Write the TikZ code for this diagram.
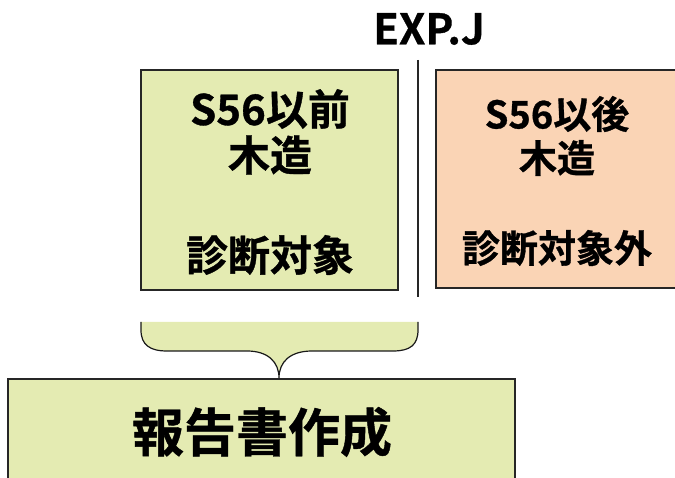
\documentclass[tikz,border=0pt]{standalone}
\usepackage{fontspec}
\newfontfamily\cjk[FakeBold=0.8]{Noto Sans CJK JP Bold}
\definecolor{lgreen}{HTML}{E4EBB2}
\definecolor{peach}{HTML}{FAD4B5}
\begin{document}
\begin{tikzpicture}[x=1pt,y=-1pt,
  box/.style={draw=black!85,line width=1.3pt,inner sep=0pt,rectangle},
  lbl/.style={inner sep=0pt,font=\cjk\fontsize{42}{44}\selectfont},
  rlbl/.style={inner sep=0pt,font=\cjk\fontsize{38}{40}\selectfont}]
\useasboundingbox (0,0) rectangle (675,478);
\clip (0,0) rectangle (675,478);
% boxes
\node[box,fill=lgreen,minimum width=257pt,minimum height=220pt] (lbox) at (269.5,180) {};
\node[box,fill=peach,minimum width=244pt,minimum height=218pt] (rbox) at (558,179) {};
\node[box,fill=lgreen,line width=2.2pt,minimum width=507pt,minimum height=111pt] (bbox) at (261.5,434.5) {};
% divider
\coordinate (vtop) at (418,60);
\coordinate (vbot) at (418,297);
\draw[line width=1.5pt,black!85] (vtop) -- (vbot);
\node[inner sep=0pt,font=\cjk\fontsize{42}{44}\selectfont] (exp) at (429,29) {EXP.J};
% left texts
\node[lbl] (l1) at (270,109) {S56以前};
\node[lbl] (l2) at (270,155) {木造};
\node[lbl] (l3) at (270,255) {診断対象};
% right texts
\node[rlbl] (r1) at (557,114) {S56以後};
\node[rlbl] (r2) at (557,158) {木造};
\node[rlbl] (r3) at (557,248) {診断対象外};
% bottom text
\node[inner sep=0pt,font=\cjk\fontsize{52}{54}\selectfont] (b1) at (262,432) {報告書作成};
% brace
\coordinate (tip) at (279,378);
\fill[lgreen] (141,322) -- (141,330) .. controls (141,345) and (150,351) .. (167,351)
  -- (247,351) .. controls (268,351) and (279,362) .. (tip)
  .. controls (279,362) and (290,351) .. (312,351)
  -- (393,351) .. controls (410,351) and (418,345) .. (418,330) -- (418,322) -- cycle;
\draw[line width=1.2pt,black!90] (141,322) -- (141,330) .. controls (141,345) and (150,351) .. (167,351)
  -- (247,351) .. controls (268,351) and (279,362) .. (tip)
  .. controls (279,362) and (290,351) .. (312,351)
  -- (393,351) .. controls (410,351) and (418,345) .. (418,330) -- (418,322);
\end{tikzpicture}
\end{document}
